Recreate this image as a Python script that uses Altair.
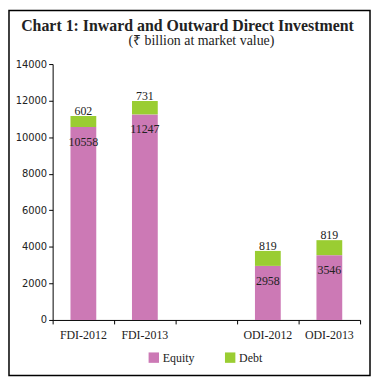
import altair as alt
import pandas as pd

# ---- data ----
categories = ["FDI-2012", "FDI-2013", "", "ODI-2012", "ODI-2013"]
bar_categories = ["FDI-2012", "FDI-2013", "ODI-2012", "ODI-2013"]
equity = [10558, 11247, 2958, 3546]
debt = [602, 731, 819, 819]
components = ["Equity", "Debt"]
colors = ["#CC79B5", "#9ACD32"]
y_ticks = [0, 2000, 4000, 6000, 8000, 10000, 12000, 14000]
title_text = "Chart 1: Inward and Outward Direct Investment"
subtitle_text = "(\u20b9 billion at market value)"

long_rows = []
for c, e, d in zip(bar_categories, equity, debt):
    long_rows.append({"cat": c, "component": "Equity", "value": e, "ord": 0})
    long_rows.append({"cat": c, "component": "Debt", "value": d, "ord": 1})
long_df = pd.DataFrame(long_rows)

wide_df = pd.DataFrame({"cat": bar_categories, "equity": equity, "debt": debt})
wide_df["total"] = wide_df["equity"] + wide_df["debt"]

SERIF = "Liberation Serif"

x_axis = alt.Axis(
    title=None, labelAngle=0, bandPosition=1, tickExtra=True,
    tickSize=4, labelPadding=6, labelFont=SERIF, labelFontSize=12,
    labelColor="#222222", domainColor="#000000", tickColor="#000000",
    grid=False,
)
y_axis = alt.Axis(
    values=y_ticks, format="d", labelOverlap=False, title=None, grid=False,
    tickSize=4, labelPadding=2, labelFont="DejaVu Sans", labelFontSize=10,
    labelColor="#222222", domainColor="#000000", tickColor="#000000",
)
x_scale = alt.Scale(domain=categories, paddingInner=0, paddingOuter=0)
y_scale = alt.Scale(domain=[0, 14000], nice=False)

bars = alt.Chart(long_df).mark_bar(size=26).encode(
    x=alt.X("cat:N", scale=x_scale, axis=x_axis),
    y=alt.Y("value:Q", stack="zero", scale=y_scale, axis=y_axis),
    color=alt.Color(
        "component:N",
        scale=alt.Scale(domain=components, range=colors),
        legend=alt.Legend(
            title=None, orient="none", direction="horizontal",
            legendX=96, legendY=290, symbolType="square", symbolSize=110,
            symbolStrokeWidth=0, symbolOpacity=1, labelFont=SERIF,
            labelFontSize=12, labelColor="#222222", columnPadding=30,
            labelOffset=3, padding=0,
        ),
    ),
    order=alt.Order("ord:Q"),
)

eq_labels = alt.Chart(wide_df).mark_text(
    font=SERIF, fontSize=12, color="#222222", baseline="alphabetic", dy=19
).encode(
    x=alt.X("cat:N", scale=x_scale, axis=x_axis),
    y=alt.Y("equity:Q", scale=y_scale, axis=y_axis),
    text=alt.Text("equity:Q", format="d"),
)

debt_labels = alt.Chart(wide_df).mark_text(
    font=SERIF, fontSize=12, color="#222222", baseline="alphabetic", dy=-1
).encode(
    x=alt.X("cat:N", scale=x_scale, axis=x_axis),
    y=alt.Y("total:Q", scale=y_scale, axis=y_axis),
    text=alt.Text("debt:Q", format="d"),
)

one = pd.DataFrame({"k": [0]})

frame = alt.Chart(one).mark_rect(
    filled=False, stroke="#000000", strokeWidth=1.5
).encode(
    x=alt.value(-44), x2=alt.value(320), y=alt.value(-54), y2=alt.value(314)
)

title_mark = alt.Chart(one).mark_text(
    font=SERIF, fontSize=16, fontWeight="bold", color="#222222",
    align="center", baseline="alphabetic",
).encode(x=alt.value(136), y=alt.value(-33), text=alt.datum(title_text))

subtitle_mark = alt.Chart(one).mark_text(
    font=SERIF, fontSize=14, color="#222222",
    align="center", baseline="alphabetic",
).encode(x=alt.value(150), y=alt.value(-19), text=alt.datum(subtitle_text))

chart = alt.layer(
    frame, bars, eq_labels, debt_labels, title_mark, subtitle_mark
).properties(
    width=310, height=258, padding=0, background="white"
).configure_view(strokeWidth=0)

chart.save("out.html", embed_options={"renderer": "svg", "actions": False})
